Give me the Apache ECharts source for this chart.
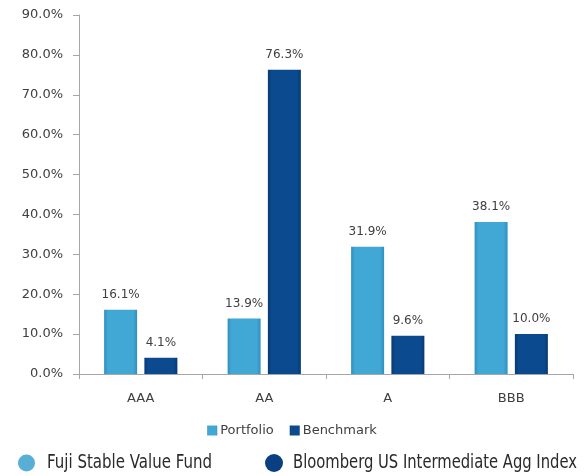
<!DOCTYPE html>
<html>
<head>
<meta charset="utf-8">
<script src="https://cdn.jsdelivr.net/npm/echarts@6/dist/echarts.min.js"></script>
<style>
  html, body { margin: 0; padding: 0; background: #fff; }
  #chart { width: 584px; height: 476px; }
</style>
</head>
<body>
<div id="chart"></div>
<script>
var categories = ['AAA', 'AA', 'A', 'BBB']
var portfolio = [16.1, 13.9, 31.9, 38.1]
var benchmark = [4.1, 76.3, 9.6, 10.0]
var yTicks = [0, 10, 20, 30, 40, 50, 60, 70, 80, 90]
var footNames = ['Fuji Stable Value Fund', 'Bloomberg US Intermediate Agg Index']

var chart = echarts.init(document.getElementById('chart'))

// bevel-ish look: darker edges, lighter middle
function bevel(edge, mid) {
  return new echarts.graphic.LinearGradient(0, 0, 1, 0, [
    { offset: 0, color: edge },
    { offset: 0.12, color: mid },
    { offset: 0.88, color: mid },
    { offset: 1, color: edge }
  ])
}

// squeeze the footer text to the condensed width of the original
var footFont = '19px "Liberation Sans Narrow", "DejaVu Sans Condensed", sans-serif'
var ctx = document.createElement('canvas').getContext('2d')
ctx.font = footFont
function squeeze(txt, w) {
  return w / ctx.measureText(txt).width
}

var labelStyle = {
  show: true,
  position: 'top',
  distance: 9,
  color: '#404040',
  fontSize: 12,
  fontFamily: 'DejaVu Sans',
  formatter: function (p) { return p.value.toFixed(1) + '%' }
}

chart.setOption({
  animation: false,
  grid: { left: 79, right: 11, top: 15, bottom: 102 },
  legend: {
    data: ['Portfolio', 'Benchmark'],
    bottom: 34,
    left: 'center',
    itemWidth: 10,
    itemHeight: 10,
    itemGap: 16,
    icon: 'rect',
    textStyle: { color: '#404040', fontSize: 13, fontFamily: 'DejaVu Sans', padding: [0, 0, 0, -2] }
  },
  xAxis: {
    type: 'category',
    data: categories,
    axisLine: { lineStyle: { color: '#a6a6a6' } },
    axisTick: { show: true, length: 5, lineStyle: { color: '#a6a6a6' } },
    axisLabel: { color: '#404040', fontSize: 13, fontFamily: 'DejaVu Sans', margin: 18 }
  },
  yAxis: {
    type: 'value',
    min: yTicks[0],
    max: yTicks[yTicks.length - 1],
    interval: 10,
    axisLine: { show: true, lineStyle: { color: '#a6a6a6' } },
    axisTick: { show: true, length: 6, lineStyle: { color: '#a6a6a6' } },
    splitLine: { show: false },
    axisLabel: {
      color: '#404040',
      fontSize: 13,
      fontFamily: 'DejaVu Sans',
      margin: 16,
      formatter: function (v) { return v.toFixed(1) + '%' }
    }
  },
  series: [
    {
      name: 'Portfolio',
      type: 'bar',
      data: portfolio,
      barWidth: 33,
      barGap: '22%',
      itemStyle: { color: bevel('#2f8fbd', '#41a8d6') },
      label: labelStyle
    },
    {
      name: 'Benchmark',
      type: 'bar',
      data: benchmark,
      barWidth: 33,
      itemStyle: { color: bevel('#083a73', '#0b4a8f') },
      label: labelStyle
    }
  ],
  graphic: [
    { type: 'circle', shape: { cx: 26.5, cy: 463, r: 8.5 }, style: { fill: '#58afd6' } },
    {
      type: 'text', x: 47, y: 463, scaleX: squeeze(footNames[0], 165),
      style: { text: footNames[0], fill: '#2a2a2a', font: footFont, verticalAlign: 'middle' }
    },
    { type: 'circle', shape: { cx: 274, cy: 463, r: 9 }, style: { fill: '#0a3f84' } },
    {
      type: 'text', x: 293, y: 463, scaleX: squeeze(footNames[1], 284),
      style: { text: footNames[1], fill: '#2a2a2a', font: footFont, verticalAlign: 'middle' }
    }
  ]
})
</script>
</body>
</html>
